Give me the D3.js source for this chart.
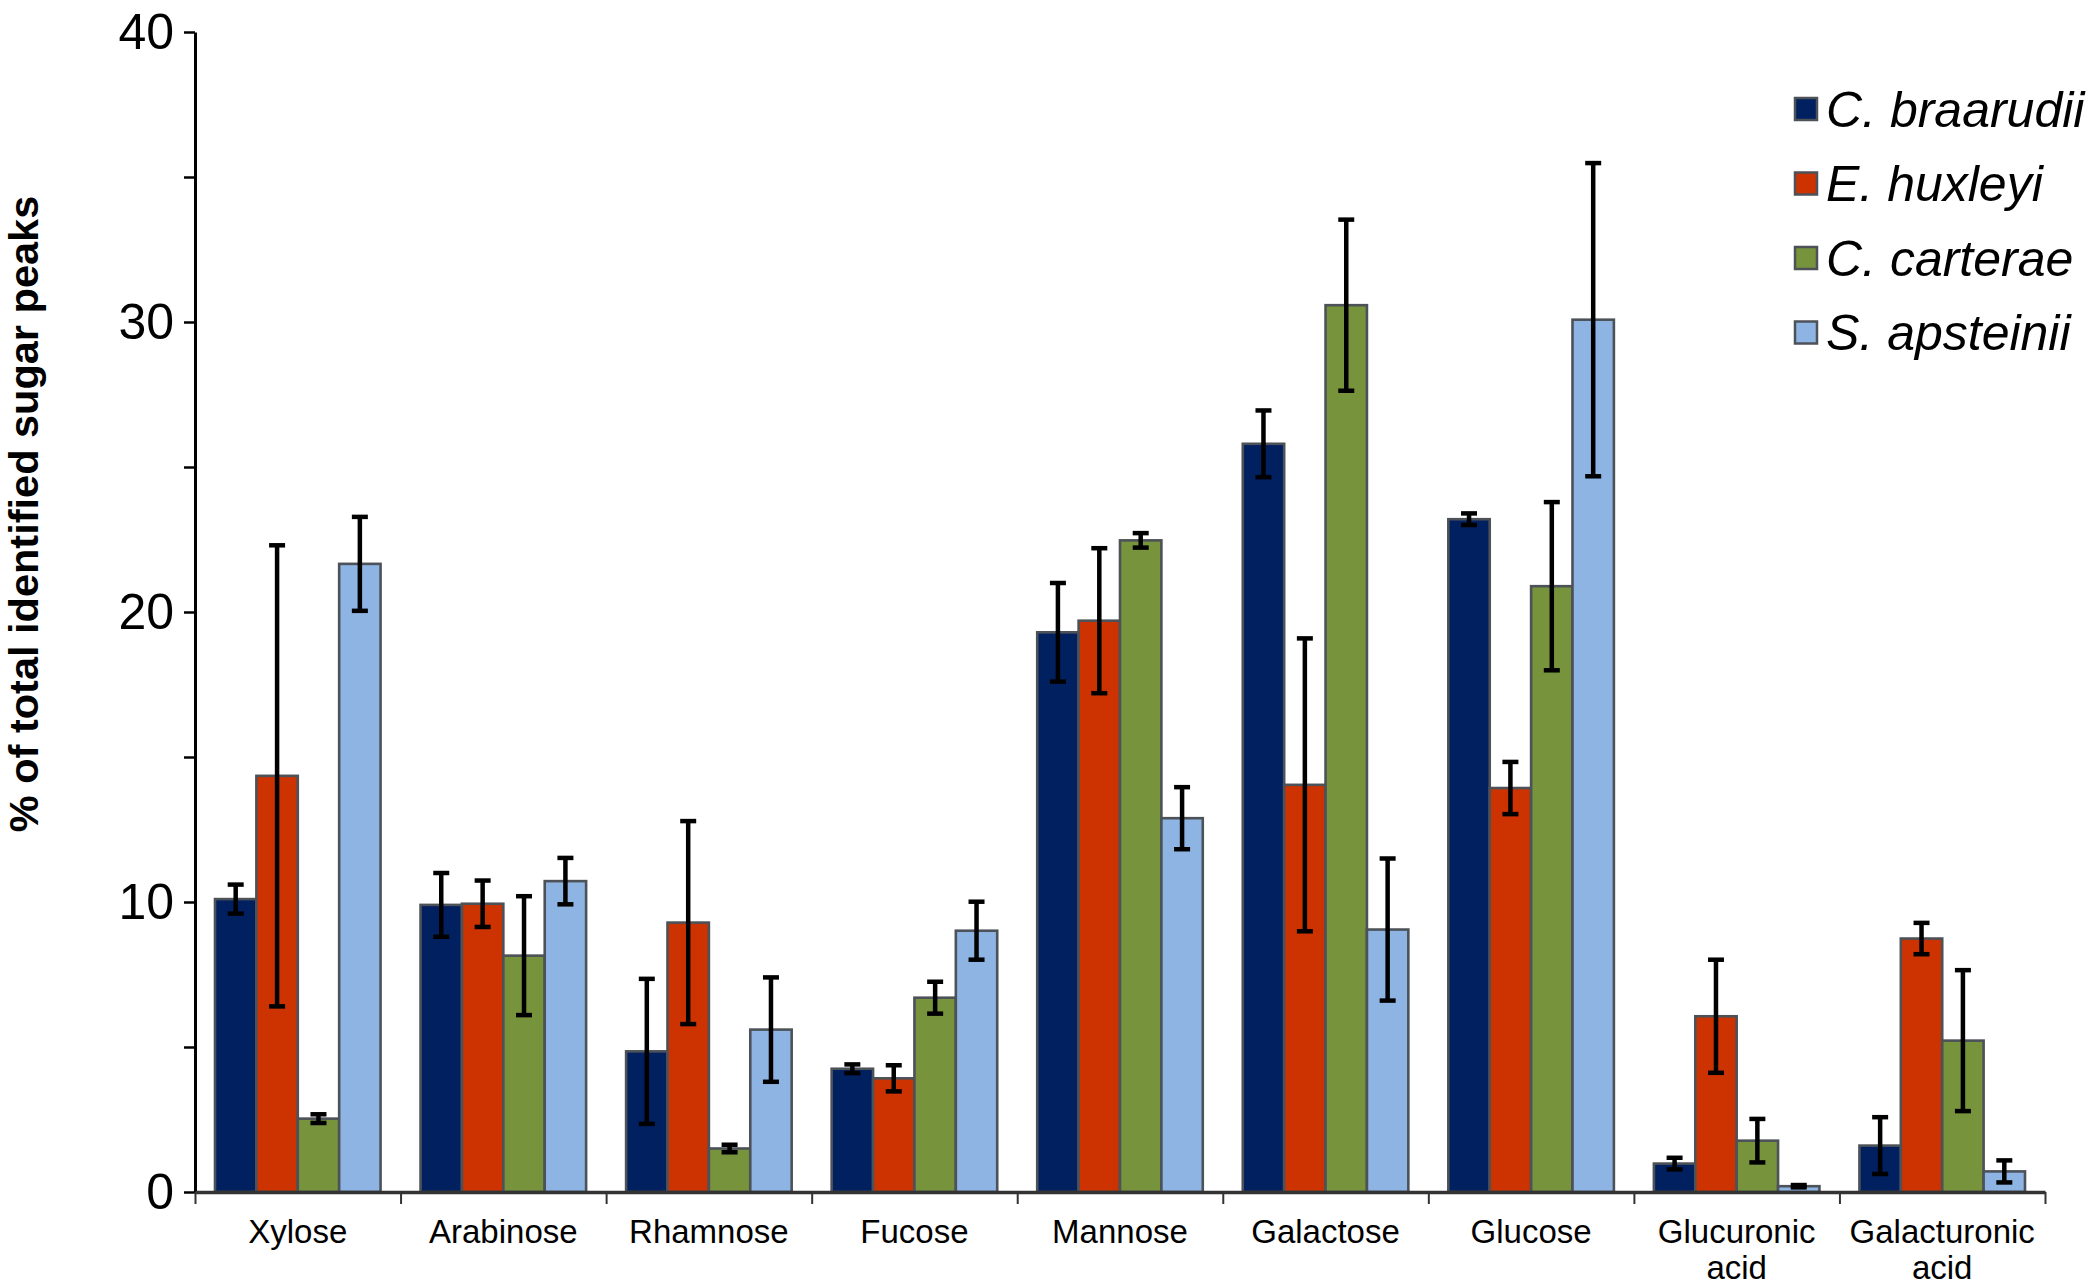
<html>
    <head>
        <title>Sugar composition</title>
        <style>
            body { margin: 0; background: white; }
            text { font-family: "Liberation Sans", Arial, sans-serif; }
        </style>
    </head>
    <body>
        <svg id="container" width="2092" height="1287"></svg>
    </body>
    <script src="https://d3js.org/d3.v7.min.js"></script>
    <script>
        // data (means and +/- error)
        let sugars = ["Xylose", "Arabinose", "Rhamnose", "Fucose", "Mannose", "Galactose", "Glucose", "Glucuronic acid", "Galacturonic acid"]
        let species = ["C. braarudii", "E. huxleyi", "C. carterae", "S. apsteinii"]
        let colors = ["#002060", "#cc3300", "#77933c", "#8db4e2"]

        let braarudii = [10.1, 9.9, 4.85, 4.25, 19.3, 25.8, 23.2, 0.98, 1.6]
        let braarudiiErr = [0.5, 1.1, 2.5, 0.15, 1.7, 1.15, 0.2, 0.2, 0.98]
        let huxleyi = [14.35, 9.94, 9.29, 3.92, 19.7, 14.04, 13.93, 6.06, 8.74]
        let huxleyiErr = [7.95, 0.8, 3.5, 0.45, 2.5, 5.05, 0.9, 1.95, 0.54]
        let carterae = [2.53, 8.15, 1.5, 6.7, 22.47, 30.58, 20.89, 1.77, 5.22]
        let carteraeErr = [0.15, 2.05, 0.13, 0.55, 0.25, 2.95, 2.9, 0.75, 2.43]
        let apsteinii = [21.66, 10.72, 5.6, 9.01, 12.89, 9.05, 30.08, 0.2, 0.71]
        let apsteiniiErr = [1.62, 0.8, 1.8, 1.0, 1.07, 2.45, 5.4, 0.04, 0.38]

        let yTicks = [0, 5, 10, 15, 20, 25, 30, 35, 40]

        let means = [braarudii, huxleyi, carterae, apsteinii]
        let errs = [braarudiiErr, huxleyiErr, carteraeErr, apsteiniiErr]

        let rows = []
        sugars.forEach((s, i) => {
            species.forEach((sp, j) => {
                rows.push({ sugar: s, species: sp, k: j, value: means[j][i], err: errs[j][i] })
            })
        })

        let plotLeft = 195, plotRight = 2045, plotTop = 32, plotBottom = 1192
        let svg = d3.select("#container")

        let x0 = d3.scaleBand().domain(sugars).range([plotLeft, plotRight])
        let gap = 40
        let x1 = d3.scaleBand().domain(species).range([gap / 2, x0.bandwidth() - gap / 2])
        let y = d3.scaleLinear().domain([0, 40]).range([plotBottom, plotTop])

        // bars
        svg.append("g").selectAll("rect")
            .data(rows)
            .join("rect")
            .attr("x", d => x0(d.sugar) + x1(d.species))
            .attr("y", d => y(d.value))
            .attr("width", x1.bandwidth())
            .attr("height", d => y(0) - y(d.value))
            .style("fill", d => colors[d.k])
            .style("stroke", "#4d5259")
            .style("stroke-width", 2.6)

        // error bars
        let eb = svg.append("g").style("stroke", "black").style("stroke-width", 4.5)
        let cx = d => x0(d.sugar) + x1(d.species) + x1.bandwidth() / 2
        eb.selectAll("line.v").data(rows).join("line").attr("class", "v")
            .attr("x1", cx).attr("x2", cx)
            .attr("y1", d => y(d.value + d.err)).attr("y2", d => y(d.value - d.err))
        eb.selectAll("line.t").data(rows).join("line").attr("class", "t")
            .attr("x1", d => cx(d) - 8).attr("x2", d => cx(d) + 8)
            .attr("y1", d => y(d.value + d.err)).attr("y2", d => y(d.value + d.err))
        eb.selectAll("line.b").data(rows).join("line").attr("class", "b")
            .attr("x1", d => cx(d) - 8).attr("x2", d => cx(d) + 8)
            .attr("y1", d => y(d.value - d.err)).attr("y2", d => y(d.value - d.err))

        // y axis
        let yAxis = d3.axisLeft(y)
                      .tickValues(yTicks)
                      .tickSize(11)
                      .tickSizeOuter(0)
                      .tickPadding(10)
                      .tickFormat(d => d % 10 == 0 ? d : "")
        let yg = svg.append("g")
                    .attr("transform", `translate(${plotLeft},0)`)
                    .call(yAxis)
        yg.select(".domain").style("stroke", "black").style("stroke-width", 3)
        yg.selectAll(".tick line").style("stroke", "black").style("stroke-width", 2.5)
        yg.selectAll(".tick text")
          .style("font-size", "50px")
          .style("font-family", "'Liberation Sans', Arial, sans-serif")
          .style("fill", "black")

        // x axis: boundary ticks from an index scale
        let xi = d3.scaleLinear().domain([0, sugars.length]).range([plotLeft, plotRight])
        let xAxis = d3.axisBottom(xi)
                      .tickValues(d3.range(sugars.length + 1))
                      .tickSize(12)
                      .tickSizeOuter(0)
                      .tickFormat("")
        let xg = svg.append("g")
                    .attr("transform", `translate(0,${plotBottom})`)
                    .call(xAxis)
        xg.select(".domain").style("stroke", "#333").style("stroke-width", 3.5)
        xg.selectAll(".tick line").style("stroke", "#333").style("stroke-width", 2)

        // category labels
        let labels = svg.append("g").selectAll("text")
            .data(sugars)
            .join("text")
            .attr("x", d => x0(d) + x0.bandwidth() / 2)
            .attr("y", 1243)
            .attr("text-anchor", "middle")
            .style("font-size", "33px")
            .style("fill", "black")
        labels.each(function (d) {
            let parts = d.split(" ")
            let t = d3.select(this)
            parts.forEach((p, i) => {
                t.append("tspan")
                 .attr("x", x0(d) + x0.bandwidth() / 2)
                 .attr("dy", i == 0 ? 0 : 36)
                 .text(p)
            })
        })

        // y label
        svg.append("text")
           .attr("transform", "translate(38,514) rotate(-90)")
           .attr("text-anchor", "middle")
           .style("font-size", "41.5px")
           .style("font-weight", "bold")
           .text("% of total identified sugar peaks")

        // legend
        let legend = svg.append("g").selectAll("g")
            .data(species)
            .join("g")
            .attr("transform", (d, i) => `translate(1795,${109 + i * 74.5})`)
        legend.append("rect")
              .attr("x", 0).attr("y", -11)
              .attr("width", 22).attr("height", 22)
              .style("fill", (d, i) => colors[i])
              .style("stroke", "#4d5259")
              .style("stroke-width", 2.5)
        legend.append("text")
              .attr("x", 31).attr("y", 0).attr("dy", "0.35em")
              .style("font-size", "50px")
              .style("font-style", "italic")
              .text(d => d)
    </script>
</html>
